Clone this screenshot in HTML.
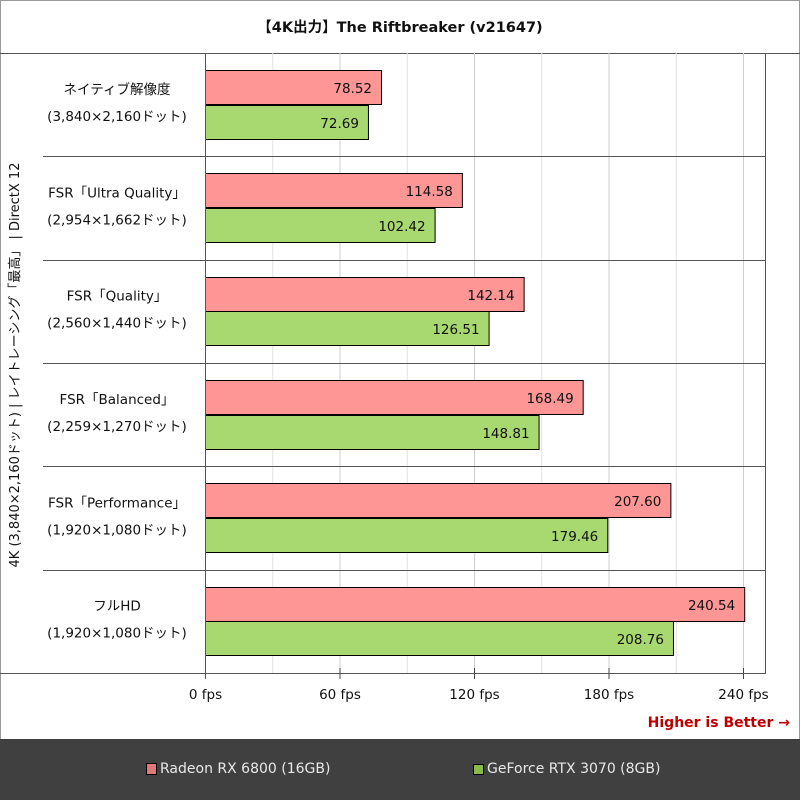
<!DOCTYPE html>
<html><head><meta charset="utf-8"><style>
html,body{margin:0;padding:0;background:#fff;}
svg{display:block;font-family:"DejaVu Sans","Noto Sans CJK JP",sans-serif;}
</style></head><body>
<svg id="chart" width="800" height="800" viewBox="0 0 800 800">
<rect x="0.5" y="0.5" width="799" height="799" fill="#fff" stroke="#999"/>
<text x="400" y="32" text-anchor="middle" font-size="14.5" font-weight="bold" fill="#111">【4K出力】The Riftbreaker (v21647)</text>
<line x1="0" y1="53.5" x2="800" y2="53.5" stroke="#555"/>
<g id="grid"></g>
<g id="bars"></g>
<g id="cats"></g>
<line x1="0" y1="673.5" x2="766" y2="673.5" stroke="#555"/>
<line x1="205.5" y1="53" x2="205.5" y2="679" stroke="#555"/>
<line x1="765.5" y1="53" x2="765.5" y2="674" stroke="#555"/>
<text transform="translate(19,365) rotate(-90)" text-anchor="middle" font-size="13" fill="#111">4K (3,840×2,160ドット) | レイトレーシング「最高」 | DirectX 12</text>
<text x="790" y="727" text-anchor="end" font-size="14" font-weight="bold" fill="#c00000">Higher is Better →</text>
<rect x="0" y="739" width="800" height="61" fill="#404040"/>
<g>
<rect x="146.5" y="763.5" width="10" height="11" fill="#e07878" stroke="#000"/>
<text x="160" y="773" font-size="14" fill="#e8e8e8">Radeon RX 6800 (16GB)</text>
</g>
<g>
<rect x="473.5" y="764.5" width="10" height="10" fill="#8ab84a" stroke="#000"/>
<text x="487" y="773" font-size="14" fill="#e8e8e8">GeForce RTX 3070 (8GB)</text>
</g>
</svg>
<script>
const categories = ["ネイティブ解像度","FSR「Ultra Quality」","FSR「Quality」","FSR「Balanced」","FSR「Performance」","フルHD"];
const subLabels = ["(3,840×2,160ドット)","(2,954×1,662ドット)","(2,560×1,440ドット)","(2,259×1,270ドット)","(1,920×1,080ドット)","(1,920×1,080ドット)"];
const radeonValues = [78.52,114.58,142.14,168.49,207.60,240.54];
const geforceValues = [72.69,102.42,126.51,148.81,179.46,208.76];
const tickValues = [0,60,120,180,240];
const tickLabels = ["0 fps","60 fps","120 fps","180 fps","240 fps"];
const minorTicks = [30,90,150,210];

const NS="http://www.w3.org/2000/svg";
const X0=205, X240=743, TOP=53, BOT=673;
const xs = v => X0 + v*(X240-X0)/240;
const groupH = (BOT-TOP)/categories.length;
const gy = i => TOP + i*groupH;
function mk(tag, attrs, parent){const e=document.createElementNS(NS,tag);for(const k in attrs)e.setAttribute(k,attrs[k]);parent.appendChild(e);return e;}
const grid=document.getElementById('grid'), bars=document.getElementById('bars'), cats=document.getElementById('cats');

minorTicks.forEach(v=>{
  const l=mk('line',{x1:xs(v)+0.5,y1:TOP,x2:xs(v)+0.5,y2:BOT,stroke:'#e2e2e2'},grid);
  
  
});
tickValues.forEach((v,i)=>{
  if(v>0){
    const l=mk('line',{x1:xs(v)+0.5,y1:TOP,x2:xs(v)+0.5,y2:BOT,stroke:'#cfcfcf'},grid);
    
    
  }
  const t=mk('line',{x1:xs(v)+0.5,y1:668,x2:xs(v)+0.5,y2:679,stroke:'#444'},grid);
  
  
  const tx=mk('text',{x:xs(v)+0.5,y:699,'text-anchor':'middle','font-size':'13.5',fill:'#111'},grid);
  tx.textContent=tickLabels[i];
  
  
});

categories.forEach((c,i)=>{
  const y=gy(i);
  if(i>0){
    const s=mk('line',{x1:43,y1:Math.round(y)+0.5,x2:766,y2:Math.round(y)+0.5,stroke:'#555'},grid);
    
    
  }
  const t1=mk('text',{x:117,y:y+41,'text-anchor':'middle','font-size':'13.5',fill:'#111'},cats);
  t1.textContent=c;
  
  
  const t2=mk('text',{x:117,y:y+68,'text-anchor':'middle','font-size':'13.5',fill:'#111'},cats);
  t2.textContent=subLabels[i];
  
  

  const series=[[radeonValues[i],'#ff9696',y+17,'bar-radeon'],[geforceValues[i],'#a8d870',y+51.5,'bar-geforce']];
  series.forEach(([v,col,by,name])=>{
    const r=mk('rect',{x:X0+0.5,y:Math.round(by)+0.5,width:xs(v)-X0,height:34,fill:col,stroke:'#000'},bars);
    
    
    const vt=mk('text',{x:xs(v)-9,y:Math.round(by)+23,'text-anchor':'end','font-size':'13.5',fill:'#111'},bars);
    vt.textContent=v.toFixed(2);
    
    
  });
});
</script>
</body></html>
